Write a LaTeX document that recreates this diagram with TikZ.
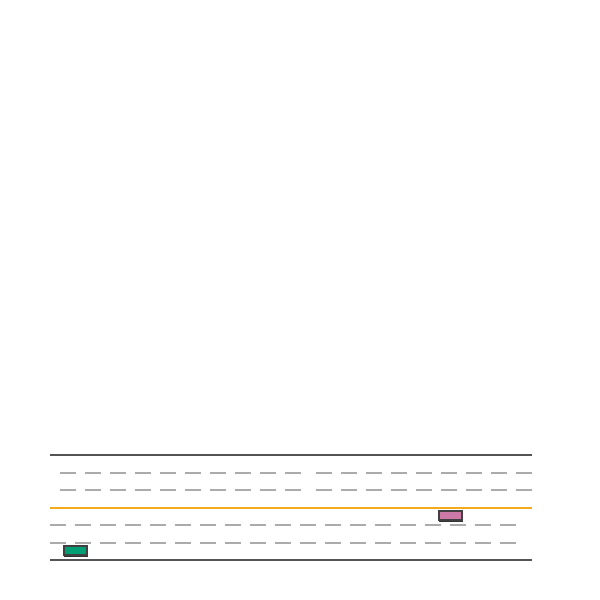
\documentclass[tikz,border=0pt]{standalone}
\begin{document}
\begin{tikzpicture}[x=1pt,y=-1pt,
  edge/.style={draw=black!67,line width=2pt},
  centre/.style={draw=roadorange,line width=1.6pt},
  lanemark/.style={draw=black!33,line width=2pt,dash pattern=on 16pt off 9pt},
  car/.style={draw=black!75,line width=2pt,minimum width=22.4pt,minimum height=9.3pt,inner sep=0pt,outer sep=0pt},
  shadow/.style={fill=black!80,minimum width=24.4pt,minimum height=11.3pt,inner sep=0pt}]
\definecolor{roadorange}{HTML}{F5AA1E}
\definecolor{cargreen}{HTML}{009E73}
\definecolor{carpink}{HTML}{CC79A7}
\useasboundingbox (0,0) rectangle (600,600);
\draw[edge] (50,455) -- (531.5,455);
\draw[edge] (50,560) -- (531.5,560);
\draw[centre] (50,507.7) -- (531.5,507.7);
\draw[lanemark] (60,472.7) -- (301,472.7);
\draw[lanemark] (316,472.7) -- (531.5,472.7);
\draw[lanemark] (60,489.7) -- (301,489.7);
\draw[lanemark] (316,489.7) -- (531.5,489.7);
\draw[lanemark] (50,525) -- (516,525);
\draw[lanemark] (50,543) -- (516,543);
\node[shadow] at (76.2,551.4) {};
\node[car,fill=cargreen] (greencar) at (75.5,550.7) {};
\node[shadow] at (451.2,516.4) {};
\node[car,fill=carpink] (pinkcar) at (450.5,515.7) {};
\end{tikzpicture}
\end{document}
